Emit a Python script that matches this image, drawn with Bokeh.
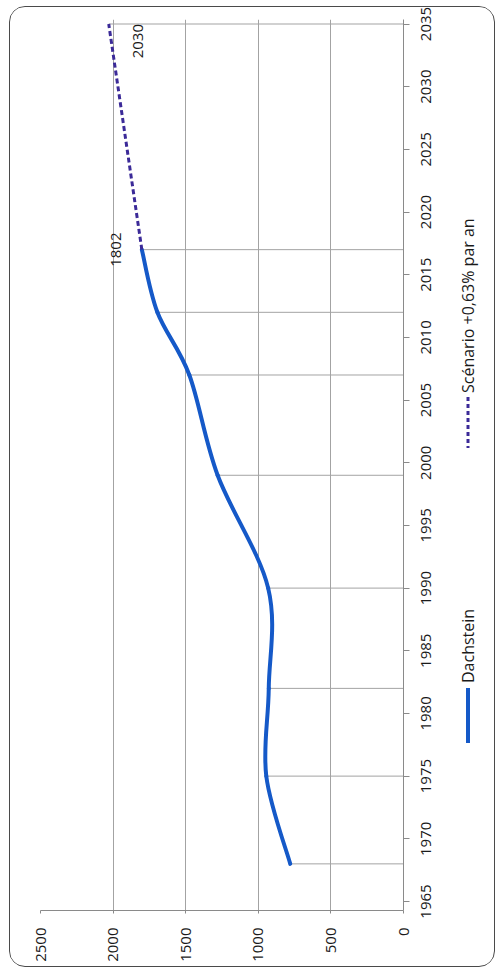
from math import pi
from bokeh.plotting import figure
from bokeh.layouts import row, column
from bokeh.models import Range1d, FixedTicker
from bokeh.core.properties import value
from bokeh.embed import file_html
from bokeh.resources import INLINE

# ---- data ----
census_years = [1968, 1975, 1982, 1990, 1999, 2007, 2012, 2017]
population = [780, 945, 928, 932, 1280, 1475, 1695, 1802]
scenario_years = [2017, 2035]
scenario_values = [1802, 2030]
value_ticks = [0, 500, 1000, 1500, 2000, 2500]
year_ticks = [1965, 1970, 1975, 1980, 1985, 1990, 1995, 2000, 2005, 2010, 2015, 2020, 2025, 2030, 2035]
series_names = ["Dachstein", "Scénario +0,63% par an"]

BLUE = "#1559c8"
PURPLE = "#3b2a98"
GRID = "#a3a3a3"
AXIS = "#8a8a8a"
TXT = "#1a1a1a"
FONT = "Open Sans"

H = 957
W1, W2 = 401, 81
FL, FT, FW, FH = 30, 12, 363, 891
VMAX, Y0, Y1 = 2500, 1964.28, 2035.36
OX, OY = 10.5, 7.5          # page offset of the chart content
LEG_X0 = OX + W1            # page x of the side panel
YPP = (Y1 - Y0) / FH        # years per pixel


def px_year(page_y):
    return Y1 - (page_y - OY - FT) * YPP


p = figure(width=W1, height=H, x_range=Range1d(VMAX, 0), y_range=Range1d(Y0, Y1),
           x_axis_location="below", y_axis_location="right",
           min_border_left=FL, min_border_top=FT,
           min_border_right=W1 - FL - FW, min_border_bottom=H - FT - FH,
           toolbar_location=None, output_backend="svg", outline_line_color=None,
           background_fill_color="white", border_fill_color="white")

# value axis (bottom, rotated labels)
xa = p.xaxis[0]
xa.ticker = FixedTicker(ticks=value_ticks)
xa.major_label_orientation = pi / 2
xa.major_label_text_font = FONT
xa.major_label_text_font_size = "15px"
xa.major_label_text_color = TXT
xa.major_label_standoff = 14
xa.major_tick_out = 3
# year axis (right): line and ticks; its labels are set in the side panel
ya = p.yaxis[0]
ya.ticker = FixedTicker(ticks=year_ticks)
ya.major_label_overrides = {t: "" for t in year_ticks}
ya.major_label_standoff = 0
ya.major_tick_out = 6
for ax in (xa, ya):
    ax.axis_line_color = AXIS
    ax.major_tick_line_color = AXIS
    ax.major_tick_in = 0
    ax.minor_tick_line_color = None

p.xgrid.ticker = FixedTicker(ticks=value_ticks)
p.xgrid.grid_line_color = GRID
p.ygrid.grid_line_color = None

# drop lines
drop_years = census_years + [scenario_years[-1]]
drop_vals = population + [scenario_values[-1]]
p.segment(x0=drop_vals, y0=drop_years, x1=[0] * len(drop_vals), y1=drop_years,
          line_color=GRID, line_width=1)

# smoothed series as bezier segments (Catmull-Rom control points)
n = len(census_years)
xs, ys = population, census_years
x0s, y0s, x1s, y1s, cx0, cy0, cx1, cy1 = [], [], [], [], [], [], [], []
for i in range(n - 1):
    a = i - 1 if i > 0 else i
    d = i + 2 if i + 2 < n else i + 1
    x0s.append(xs[i]); y0s.append(ys[i]); x1s.append(xs[i + 1]); y1s.append(ys[i + 1])
    cx0.append(xs[i] + (xs[i + 1] - xs[a]) / 6)
    cy0.append(ys[i] + (ys[i + 1] - ys[a]) / 6)
    cx1.append(xs[i + 1] - (xs[d] - xs[i]) / 6)
    cy1.append(ys[i + 1] - (ys[d] - ys[i]) / 6)
p.bezier(x0=x0s, y0=y0s, x1=x1s, y1=y1s, cx0=cx0, cy0=cy0, cx1=cx1, cy1=cy1,
         line_color=BLUE, line_width=4, line_cap="round")

# scenario
p.line(x=scenario_values, y=scenario_years, line_color=PURPLE, line_width=3,
       line_dash="5 3")

# data labels
p.text(x=[scenario_values[0]], y=[scenario_years[0]], text=[str(scenario_values[0])],
       angle=pi / 2, text_align="center", text_baseline="middle",
       x_offset=-26, y_offset=0, text_font=value(FONT), text_font_size="15px",
       text_color=TXT)
p.text(x=[scenario_values[1]], y=[scenario_years[1]], text=[str(scenario_values[1])],
       angle=pi / 2, text_align="right", text_baseline="middle",
       x_offset=29, y_offset=0, text_font=value(FONT), text_font_size="15px",
       text_color=TXT)

# side panel: year tick labels + legend, same vertical scale as the chart,
# frame covering the full panel height so nothing is clipped
leg = figure(width=W2, height=H, x_range=Range1d(0, W2),
             y_range=Range1d(Y0 - (H - FT - FH) * YPP, Y1 + FT * YPP),
             x_axis_location=None, y_axis_location=None, min_border=0,
             min_border_top=0, min_border_bottom=0, min_border_left=0, min_border_right=0,
             toolbar_location=None, output_backend="svg", outline_line_color=None,
             background_fill_color="white", border_fill_color="white")
leg.xgrid.visible = False
leg.ygrid.visible = False

YL = 426 - LEG_X0
leg.text(x=[YL] * len(year_ticks), y=year_ticks, text=[str(t) for t in year_ticks],
         angle=pi / 2, text_align="center", text_baseline="middle",
         text_font=value(FONT), text_font_size="15px", text_color=TXT)

LX = 468 - LEG_X0
leg.segment(x0=[LX], y0=[px_year(688)], x1=[LX], y1=[px_year(743)],
            line_color=BLUE, line_width=4)
leg.segment(x0=[LX], y0=[px_year(397)], x1=[LX], y1=[px_year(448)],
            line_color=PURPLE, line_width=3, line_dash="4 3")
leg.text(x=[LX, LX], y=[px_year(683), px_year(393)], text=series_names, angle=pi / 2,
         text_align="left", text_baseline="middle", text_font=value(FONT),
         text_font_size="16px", text_color=TXT)

side = column(leg, spacing=0)
lay = row(p, side, spacing=0)
lay.styles = {"border": "1.5px solid #4a4a4a", "border-radius": "16px",
              "width": "486px", "height": "961px", "margin": "6px 0 0 9px",
              "box-sizing": "border-box", "overflow": "hidden"}

open("out.html", "w").write(file_html(lay, INLINE))
